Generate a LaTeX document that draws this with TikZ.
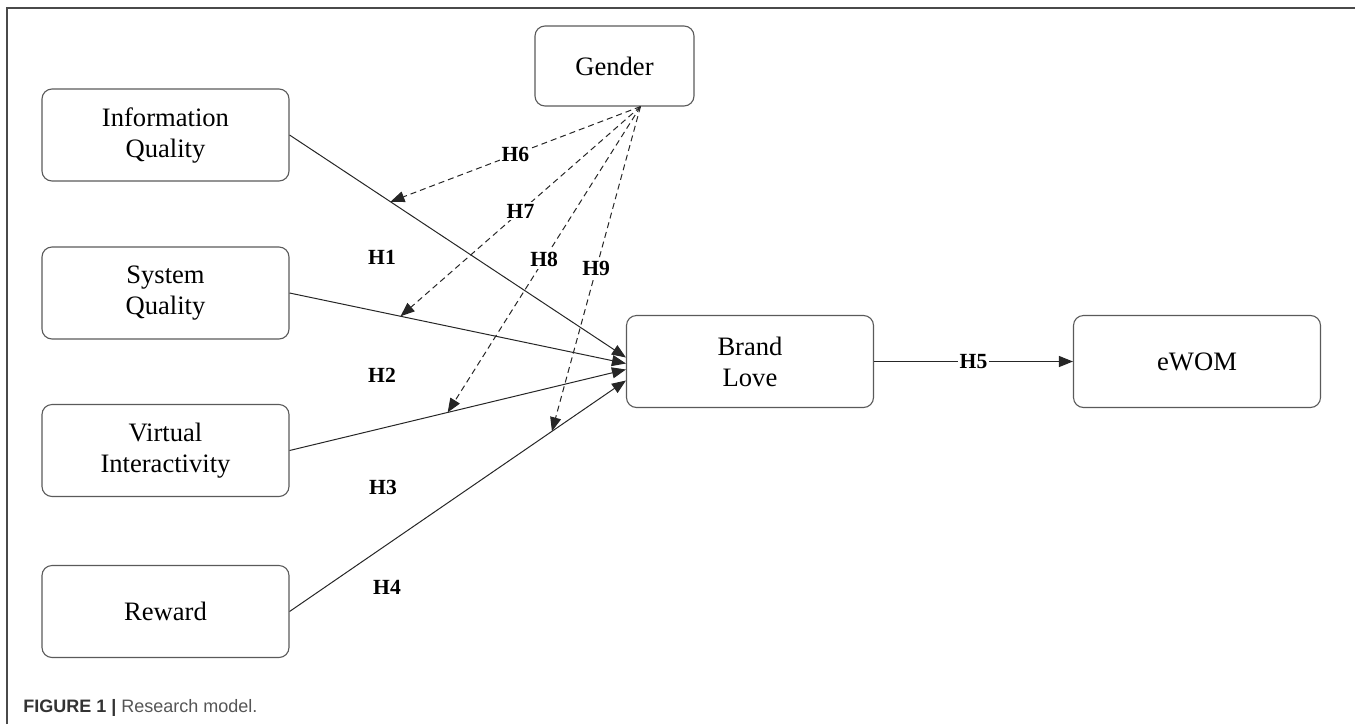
\documentclass[tikz,border=0pt]{standalone}
\usepackage{fontspec}
\setmainfont{Liberation Serif}
\newfontfamily\capfont{Liberation Sans}
\usetikzlibrary{arrows.meta}
\usetikzlibrary{positioning}
\usetikzlibrary{calc}
\definecolor{framegray}{HTML}{4A4A4A}
\definecolor{boxgray}{HTML}{5A5A5A}
\definecolor{capdark}{HTML}{333333}
\definecolor{capgray}{HTML}{555555}
\tikzset{
	var/.style={rectangle, rounded corners=5pt, draw=boxgray, line width=0.55pt,
		minimum width=123.5pt, minimum height=46pt, align=center,
		font=\fontsize{13.3}{15.5}\selectfont},
	hyp/.style={font=\bfseries\fontsize{10.8}{12}\selectfont},
}

\begin{document}
\begin{tikzpicture}[x=0.5pt, y=-0.5pt,
	link/.style={-{Triangle[length=7pt,width=5.5pt]}, line width=0.5pt, draw=black!85},
	modlink/.style={link, dash pattern=on 3pt off 2pt},
	]
	\useasboundingbox (0,0) rectangle (1355,724);
	
	% frame
	\draw[framegray, line width=1pt] (7,724) -- (7,8) -- (1355,8);
	
	% coordinate def
	\node[var] (IQ) at (165.5,135) {Information\\Quality};
	\node[var] (SQ) at (165.5,293) {System\\Quality};
	\node[var] (VI) at (165.5,450.5) {Virtual\\Interactivity};
	\node[var] (RW) at (165.5,611.5) {Reward};
	\node[var, minimum width=79.5pt, minimum height=40pt] (G) at (614.5,66) {Gender};
	\node[var] (BL) at (750,361.5) {Brand\\Love};
	\node[var] (EW) at (1197,361.5) {eWOM};
	
	% arrow ends on Brand Love
	\foreach \a/\d in {IQ/-4, SQ/2, VI/8, RW/19}
	\coordinate (e\a) at ($(BL.west)+(0,\d)$);
	
	% direct paths
	\foreach \a in {IQ, SQ, VI, RW}
	\draw[link] (\a.east) -- (e\a);
	\draw[link] (BL.east) -- (EW.west) node[midway, hyp, fill=white, inner sep=1pt] (lH5) {H5};
	
	% moderating paths from Gender
	\coordinate (gs) at ($(G.south)+(26,0)$);
	\foreach \a/\f/\h in {IQ/0.30/H6, SQ/0.33/H7, VI/0.47/H8, RW/0.78/H9}{
		\coordinate (m\a) at ($(\a.east)!\f!(e\a)$);
		\draw[modlink] (gs) -- (m\a) node[midway, hyp, fill=white, inner sep=1pt] (l\h) {\h};
	}
	
	% path labels
	\node[hyp] (lH1) at (382,257) {H1};
	\node[hyp] (lH2) at (382,375) {H2};
	\node[hyp] (lH3) at (383,487) {H3};
	\node[hyp] (lH4) at (387,587) {H4};
	
	% caption
	\node[anchor=base west, inner sep=0pt, font=\capfont\fontsize{9}{11}\selectfont] (cap) at (23,712)
	{\textcolor{capdark}{\bfseries FIGURE 1 |} \textcolor{capgray}{Research model.}};
\end{tikzpicture}
\end{document}
